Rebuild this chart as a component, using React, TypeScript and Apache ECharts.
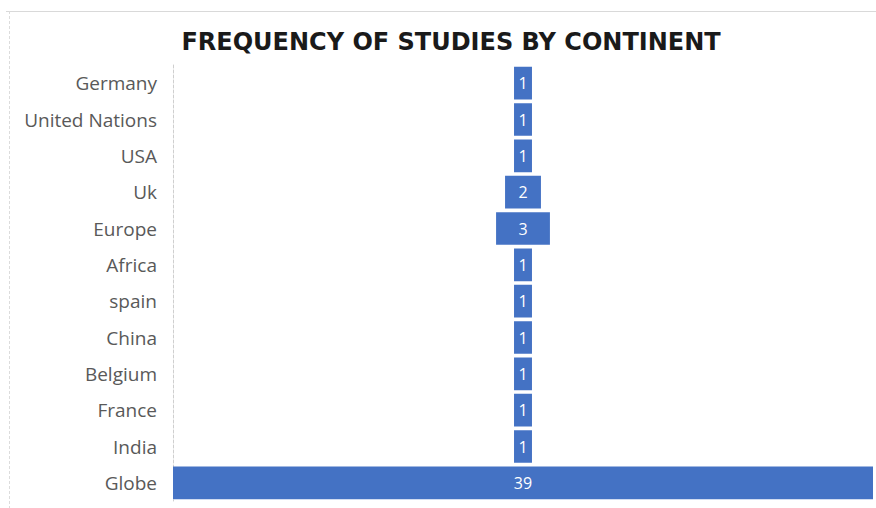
import React, { useEffect, useRef } from "react";
import * as echarts from "echarts";

const categories = [
  "Germany",
  "United Nations",
  "USA",
  "Uk",
  "Europe",
  "Africa",
  "spain",
  "China",
  "Belgium",
  "France",
  "India",
  "Globe",
];
const counts = [1, 1, 1, 2, 3, 1, 1, 1, 1, 1, 1, 39];
const titleText = "FREQUENCY OF STUDIES BY CONTINENT";

export default function App() {
  const ref = useRef<HTMLDivElement>(null);
  useEffect(() => {
    if (!ref.current) return;
    const chart = echarts.init(ref.current, undefined, { renderer: "svg" });
    const maxV = Math.max(...counts);
    const offsets = counts.map((v) => (maxV - v) / 2);
    chart.setOption({
      animation: false,
      backgroundColor: "#ffffff",
      title: {
        text: titleText,
        left: 446,
        textAlign: "center",
        top: 25,
        textStyle: {
          fontFamily: "DejaVu Sans",
          fontWeight: "bold",
          fontSize: 24,
          color: "#1a1a1a",
        },
      },
      graphic: [
        {
          type: "line",
          shape: { x1: 6, y1: 11.5, x2: 876, y2: 11.5 },
          style: { stroke: "#d9d9d9", lineWidth: 1 },
        },
        {
          type: "line",
          shape: { x1: 9.5, y1: 11, x2: 9.5, y2: 508 },
          style: { stroke: "#dcdcdc", lineWidth: 1, lineDash: [3, 2] },
        },
      ],
      grid: { left: 173, right: 3, top: 65, bottom: 7 },
      xAxis: {
        type: "value",
        min: 0,
        max: maxV,
        show: false,
      },
      yAxis: {
        type: "category",
        data: categories,
        inverse: true,
        axisLine: {
          show: true,
          lineStyle: { color: "#cfcfcf", type: [3, 2], width: 1 },
        },
        axisTick: { show: false },
        axisLabel: {
          color: "#595959",
          fontSize: 19,
          fontFamily: "Open Sans",
          margin: 16,
        },
      },
      series: [
        {
          type: "bar",
          stack: "f",
          data: offsets,
          itemStyle: { color: "transparent" },
          barCategoryGap: "10%",
          silent: true,
        },
        {
          type: "bar",
          stack: "f",
          data: counts,
          barCategoryGap: "10%",
          itemStyle: { color: "#4472C4" },
          label: {
            show: true,
            position: "inside",
            color: "#ffffff",
            fontSize: 16,
            fontFamily: "Open Sans",
          },
        },
      ],
    });
    return () => chart.dispose();
  }, []);
  return <div ref={ref} style={{ width: 876, height: 508, position: "fixed", left: 0, top: 0 }} />;
}
